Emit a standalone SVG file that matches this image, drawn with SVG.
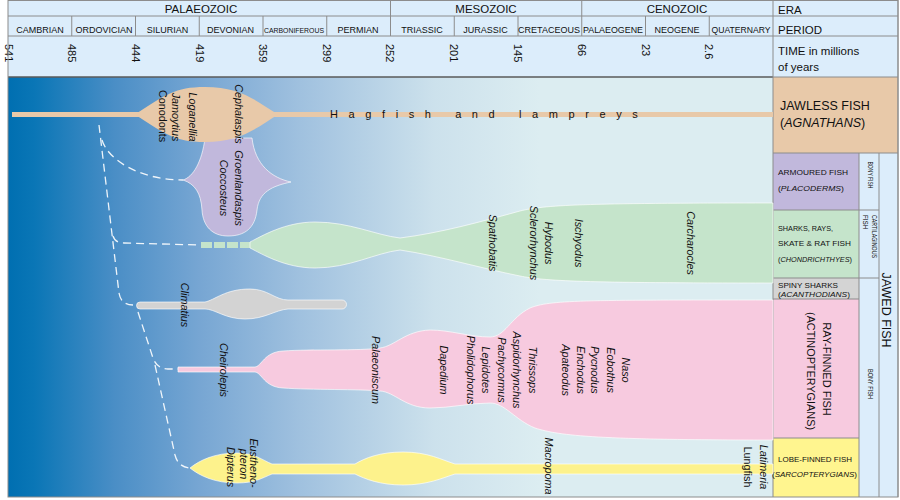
<svg xmlns="http://www.w3.org/2000/svg" width="900" height="500" viewBox="0 0 900 500">
<defs>
<linearGradient id="bg" gradientUnits="userSpaceOnUse" x1="8" y1="0" x2="540" y2="0">
<stop offset="0" stop-color="#006fb1"/>
<stop offset="0.05" stop-color="#0a76b6"/>
<stop offset="0.2" stop-color="#4a8ec6"/>
<stop offset="0.36" stop-color="#77a6d3"/>
<stop offset="0.55" stop-color="#a0c1df"/>
<stop offset="0.8" stop-color="#cce1ec"/>
<stop offset="1" stop-color="#dcedf1"/>
</linearGradient>
</defs>
<style>
text{font-family:"Liberation Sans",Arial,sans-serif;fill:#111}
.era{font-size:11.5px}
.eram{font-size:11.5px;text-anchor:middle}
.per{font-size:9px;text-anchor:middle}
.num{font-size:11px}
.sp{font-size:10.8px;font-style:italic;text-anchor:middle}
.up{font-style:normal}
.grid{stroke:#8c8c8c;stroke-width:1;fill:none}
.hdr{fill:#dcedfb}
.shape{stroke:#fff;stroke-width:0.8;stroke-opacity:0.8}
.dash{fill:none;stroke:#fff;stroke-width:1.3;stroke-dasharray:8 5;stroke-opacity:0.9}
.pl{font-size:7.4px}
.sm{font-size:6.3px}
.it{font-style:italic}
.tan{fill:#e8c9a9}
.pur{fill:#c1b8dc}
.grn{fill:#c5e4cb}
.gry{fill:#d3d3d3}
.pnk{fill:#f7cadf}
.yel{fill:#fdf28c}
</style>

<!-- background -->
<rect x="8" y="77" width="765" height="420" fill="url(#bg)"/>

<!-- header -->
<g id="header">
<rect class="hdr" x="8" y="0" width="890" height="77"/>
<line class="grid" x1="8" y1="16" x2="898" y2="16"/>
<line class="grid" x1="8" y1="36" x2="898" y2="36"/>
<line x1="8" y1="77" x2="773" y2="77" stroke="#5a5a5a" stroke-width="1.5"/>
<line class="grid" x1="390.5" y1="0" x2="390.5" y2="36"/>
<line class="grid" x1="581.75" y1="0" x2="581.75" y2="36"/>
<line class="grid" x1="71.75" y1="16" x2="71.75" y2="36"/>
<line class="grid" x1="135.5" y1="16" x2="135.5" y2="36"/>
<line class="grid" x1="199.25" y1="16" x2="199.25" y2="36"/>
<line class="grid" x1="263" y1="16" x2="263" y2="36"/>
<line class="grid" x1="326.75" y1="16" x2="326.75" y2="36"/>
<line class="grid" x1="454.25" y1="16" x2="454.25" y2="36"/>
<line class="grid" x1="518" y1="16" x2="518" y2="36"/>
<line class="grid" x1="645.5" y1="16" x2="645.5" y2="36"/>
<line class="grid" x1="709.25" y1="16" x2="709.25" y2="36"/>
<text class="eram" x="201" y="13">PALAEOZOIC</text>
<text class="eram" x="486" y="13">MESOZOIC</text>
<text class="eram" x="677" y="13">CENOZOIC</text>
<text class="per" x="40" y="33">CAMBRIAN</text>
<text class="per" x="104" y="33">ORDOVICIAN</text>
<text class="per" x="167.5" y="33">SILURIAN</text>
<text class="per" x="230.5" y="33">DEVONIAN</text>
<text class="per" x="294" y="33" style="font-size:8px" textLength="60" lengthAdjust="spacingAndGlyphs">CARBONIFEROUS</text>
<text class="per" x="358" y="33">PERMIAN</text>
<text class="per" x="422" y="33">TRIASSIC</text>
<text class="per" x="485.5" y="33">JURASSIC</text>
<text class="per" x="549" y="33">CRETACEOUS</text>
<text class="per" x="613" y="33" textLength="60" lengthAdjust="spacingAndGlyphs">PALAEOGENE</text>
<text class="per" x="677" y="33">NEOGENE</text>
<text class="per" x="741" y="33" textLength="59" lengthAdjust="spacingAndGlyphs">QUATERNARY</text>
<text class="num" transform="translate(5,44) rotate(90)">541</text>
<text class="num" transform="translate(67.5,44) rotate(90)">485</text>
<text class="num" transform="translate(132,44) rotate(90)">444</text>
<text class="num" transform="translate(195.5,44) rotate(90)">419</text>
<text class="num" transform="translate(259,44) rotate(90)">359</text>
<text class="num" transform="translate(322.5,44) rotate(90)">299</text>
<text class="num" transform="translate(386,44) rotate(90)">252</text>
<text class="num" transform="translate(450,44) rotate(90)">201</text>
<text class="num" transform="translate(514,44) rotate(90)">145</text>
<text class="num" transform="translate(578,44) rotate(90)">66</text>
<text class="num" transform="translate(641.5,44) rotate(90)">23</text>
<text class="num" transform="translate(705,44) rotate(90)">2.6</text>
</g>

<!-- right legend panel -->
<g id="legend">
<rect class="tan" x="773" y="77" width="125" height="76"/>
<rect class="pur" x="773" y="153" width="86" height="57"/>
<rect class="grn" x="773" y="210" width="86" height="68"/>
<rect fill="#d4d4d4" x="773" y="278" width="86" height="21"/>
<rect class="pnk" x="773" y="299" width="86" height="139"/>
<rect fill="#fff58f" x="773" y="438" width="86" height="59"/>
<rect class="hdr" x="859" y="153" width="39" height="344"/>
<line class="grid" x1="773" y1="0" x2="773" y2="497"/>
<line class="grid" x1="898" y1="0" x2="898" y2="497"/>
<line class="grid" x1="773" y1="77" x2="898" y2="77"/>
<line class="grid" x1="773" y1="153" x2="898" y2="153"/>
<line class="grid" x1="773" y1="210" x2="879" y2="210"/>
<line class="grid" x1="773" y1="278" x2="879" y2="278"/>
<line class="grid" x1="773" y1="299" x2="859" y2="299"/>
<line class="grid" x1="773" y1="438" x2="859" y2="438"/>
<line class="grid" x1="859" y1="153" x2="859" y2="497"/>
<line class="grid" x1="879" y1="153" x2="879" y2="497"/>
<text class="era" x="778" y="14">ERA</text>
<text class="era" x="778" y="34">PERIOD</text>
<text class="era" x="778" y="55">TIME in millions</text>
<text class="era" x="778" y="71">of years</text>
<text x="780" y="110" style="font-size:12.5px">JAWLESS FISH</text>
<text x="780" y="127" style="font-size:12.5px">(<tspan class="it">AGNATHANS</tspan>)</text>
<text class="pl" x="778" y="175" textLength="70" lengthAdjust="spacingAndGlyphs">ARMOURED FISH</text>
<text class="pl" x="778" y="191" textLength="66" lengthAdjust="spacingAndGlyphs">(<tspan class="it">PLACODERMS</tspan>)</text>
<text class="pl" x="778" y="231" textLength="55" lengthAdjust="spacingAndGlyphs">SHARKS, RAYS,</text>
<text class="pl" x="778" y="246" textLength="73" lengthAdjust="spacingAndGlyphs">SKATE &amp; RAT FISH</text>
<text class="pl" x="778" y="262" textLength="74" lengthAdjust="spacingAndGlyphs">(<tspan class="it">CHONDRICHTHYES</tspan>)</text>
<text class="pl" x="778" y="288" textLength="60" lengthAdjust="spacingAndGlyphs">SPINY SHARKS</text>
<text class="pl" x="778" y="297" textLength="72" lengthAdjust="spacingAndGlyphs">(<tspan class="it">ACANTHODIANS</tspan>)</text>
<text transform="translate(823,369) rotate(90)" style="font-size:11px;text-anchor:middle">RAY-FINNED FISH</text>
<text transform="translate(807,371) rotate(90)" style="font-size:10.5px;text-anchor:middle" textLength="118" lengthAdjust="spacingAndGlyphs">(ACTINOPTERYGIANS)</text>
<text class="pl" x="778" y="462" textLength="74" lengthAdjust="spacingAndGlyphs">LOBE-FINNED FISH</text>
<text class="pl" x="772" y="477" textLength="85" lengthAdjust="spacingAndGlyphs">(<tspan class="it">SARCOPTERYGIANS</tspan>)</text>
<text class="sm" transform="translate(867.5,175) rotate(90)" style="text-anchor:middle" textLength="27" lengthAdjust="spacingAndGlyphs">BONY FISH</text>
<text class="sm" transform="translate(871.5,215) rotate(90)" textLength="43" lengthAdjust="spacingAndGlyphs">CARTILAGINOUS</text>
<text class="sm" transform="translate(862.5,215) rotate(90)">FISH</text>
<text class="sm" transform="translate(867.5,384) rotate(90)" style="text-anchor:middle" textLength="30" lengthAdjust="spacingAndGlyphs">BONY FISH</text>
<text transform="translate(882,310) rotate(90)" style="font-size:12.5px;text-anchor:middle">JAWED FISH</text>
</g>

<!-- connectors -->
<g id="connectors">
<path class="dash" d="M99 125 L119 293 Q121 305 133 305"/>
<path class="dash" d="M102 140 C108 160 140 180 183 180"/>
<path class="dash" d="M113 236 Q115 243 124 243 L200 245"/>
<path class="dash" d="M138 312 L153 358 Q157 369 168 369 L178 369"/>
<path class="dash" d="M155 365 L175 455 Q178 467 190 468"/>
</g>

<!-- placoderms -->
<g id="placoderms">
<path class="pur shape" d="M183 180 C193 177 202 162 205 138 L252 138 C255 165 272 178 291 182 C272 186 259 192 257 210 C255 228 245 236 228 236 C212 236 203 226 202 210 C201 193 195 184 183 180 Z"/>
<text class="sp" transform="translate(235,188) rotate(90)">Groenlandaspis</text>
<text class="sp" transform="translate(220,188) rotate(90)">Coccosteus</text>
</g>

<!-- jawless fish -->
<g id="jawless">
<rect class="tan" x="12" y="112" width="761" height="5"/>
<path class="tan" d="M135 114.5 C165 95 175 87 205 87 C240 87 255 100 278 114.5 C255 129 240 142 205 142 C175 142 165 134 135 114.5 Z"/>
<text class="sp" transform="translate(235,114) rotate(90)">Cephalaspis</text>
<text class="sp" transform="translate(189,117) rotate(90)">Loganellia</text>
<text class="sp" transform="translate(172,117) rotate(90)">Jamoytius</text>
<text class="sp up" transform="translate(159,116) rotate(90)">Conodonts</text>
<text x="330" y="117.5" style="font-size:11px;letter-spacing:10.6px">Hagfish and lampreys</text>
</g>

<!-- chondrichthyes -->
<g id="chondrichthyes">
<rect class="grn" x="201" y="242" width="11" height="6"/>
<rect class="grn" x="214" y="242" width="11" height="6"/>
<rect class="grn" x="227" y="242" width="11" height="6"/>
<rect class="grn" x="240" y="242" width="11" height="6"/>
<path class="grn shape" d="M250 242 C262 236 285 222 315 222 C350 222 375 235 400 238 C440 233 480 222 520 211 C545 205 580 203 773 203 L773 283 C580 283 545 281 520 276 C480 268 440 256 400 250 C375 253 350 268 315 268 C285 268 262 254 250 248 Z"/>
<text class="sp" transform="translate(489,243) rotate(90)">Spathobatis</text>
<text class="sp" transform="translate(530,243) rotate(90)">Sclerorhynchus</text>
<text class="sp" transform="translate(545,243) rotate(90)">Hybodus</text>
<text class="sp" transform="translate(575,243) rotate(90)">Ischyodus</text>
<text class="sp" transform="translate(687,243) rotate(90)">Carcharocles</text>
</g>

<!-- acanthodians -->
<g id="acanthodians">
<path class="gry shape" d="M140 302 L205 302 C215 300 225 289 250 289 C268 289 275 300 288 300 L342 300 A4.5 4.5 0 0 1 342 309 L288 309 C275 310 265 319 245 319 C225 319 215 309 205 309 L140 309 A3.5 3.5 0 0 1 140 302 Z"/>
<text class="sp" transform="translate(181,305) rotate(90)">Climatius</text>
</g>

<!-- actinopterygians -->
<g id="actinopterygians">
<path class="pnk shape" d="M178 367 L255 367 C262 366 264 352 283 351 C310 349 360 351 380 348 C395 346 405 331 430 330 C450 330 470 337 490 337 C505 337 510 318 530 308 C550 300 580 300 773 300 L773 440 C600 440 560 436 535 428 C515 420 505 403 490 403 C470 403 450 408 430 408 C405 408 395 392 380 391 C360 389 310 390 283 388 C264 387 262 373 255 372 L178 372 Z"/>
<text class="sp" transform="translate(220,370) rotate(90)">Cheirolepis</text>
<text class="sp" transform="translate(372,370) rotate(90)">Palaeoniscum</text>
<text class="sp" transform="translate(440,370) rotate(90)">Dapedium</text>
<text class="sp" transform="translate(467,370) rotate(90)">Pholidophorus</text>
<text class="sp" transform="translate(482,370) rotate(90)">Lepidotes</text>
<text class="sp" transform="translate(498,370) rotate(90)">Pachycormus</text>
<text class="sp" transform="translate(513,370) rotate(90)">Aspidorhynchus</text>
<text class="sp" transform="translate(529,370) rotate(90)">Thrissops</text>
<text class="sp" transform="translate(562,370) rotate(90)">Apateodus</text>
<text class="sp" transform="translate(577,370) rotate(90)">Enchodus</text>
<text class="sp" transform="translate(591,370) rotate(90)">Pycnodus</text>
<text class="sp" transform="translate(607,370) rotate(90)">Eobothus</text>
<text class="sp" transform="translate(622,370) rotate(90)">Naso</text>
</g>

<!-- sarcopterygians -->
<g id="sarcopterygians">
<path class="yel shape" d="M190 468 C200 460 215 453 237 453 C255 453 262 460 272 464 L355 464 C365 458 380 452 403 452 C428 452 442 460 455 464 L773 464 L773 474 L455 474 C442 478 428 485 403 485 C380 485 365 479 355 474 L272 474 C262 478 255 483 237 483 C215 483 200 476 190 468 Z"/>
<text class="sp" transform="translate(227,467) rotate(90)">Dipterus</text>
<text class="sp" transform="translate(250,463) rotate(90)">Eustheno-</text>
<text class="sp" transform="translate(240,464) rotate(90)">pteron</text>
<text class="sp" transform="translate(545,466) rotate(90)">Macropoma</text>
<text class="sp up" transform="translate(744,467) rotate(90)">Lungfish</text>
<text class="sp" transform="translate(760,467) rotate(90)">Latimeria</text>
</g>

<!-- frame -->
<rect x="8" y="0.5" width="890" height="496.5" fill="none" stroke="#8c8c8c" stroke-width="1"/>
</svg>
